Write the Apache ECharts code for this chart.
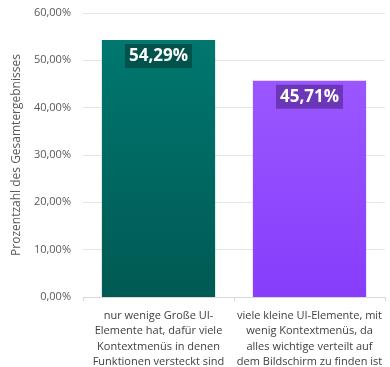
<!DOCTYPE html>
<html>
<head>
<meta charset="utf-8">
<script src="https://cdn.jsdelivr.net/npm/echarts@6/dist/echarts.min.js"></script>
<style>
  html, body { margin: 0; padding: 0; background: #ffffff; }
  #chart { width: 390px; height: 367px; }
</style>
</head>
<body>
<div id="chart"></div>
<script>
// Answer options (x categories)
const categories = [
  'nur wenige Große UI-\nElemente hat, dafür viele\nKontextmenüs in denen\nFunktionen versteckt sind',
  'viele kleine UI-Elemente, mit\nwenig Kontextmenüs, da\nalles wichtige verteilt auf\ndem Bildschirm zu finden ist'
];
// Share of total responses (fraction)
const shares = [0.5429, 0.4571];
// Value axis tick range
const axisMin = 0;
const axisMax = 0.6;
const axisStep = 0.1;

const fmtPct = (v, d) => (v * 100).toFixed(d).replace('.', ',') + '%';

const barStyles = [
  { top: '#00776F', bottom: '#005A53', labelBg: '#00524B' },
  { top: '#9A57FF', bottom: '#873DFB', labelBg: '#6B36B8' }
];

const chart = echarts.init(document.getElementById('chart'));
chart.setOption({
  animation: false,
  grid: { left: 83, right: 5, top: 13, bottom: 70, outerBoundsMode: 'none' },
  xAxis: {
    type: 'category',
    data: categories,
    axisLine: { lineStyle: { color: '#D9D9D9' } },
    axisTick: { show: true, length: 4, lineStyle: { color: '#D9D9D9' } },
    axisLabel: {
      color: '#404040',
      fontSize: 11,
      fontFamily: 'Open Sans',
      lineHeight: 15.5,
      margin: 11,
      interval: 0
    }
  },
  yAxis: {
    type: 'value',
    min: axisMin,
    max: axisMax,
    interval: axisStep,
    name: 'Prozentzahl des Gesamtergebnisses',
    nameLocation: 'middle',
    nameGap: 53,
    nameTextStyle: { color: '#595959', fontSize: 12, fontFamily: 'Open Sans' },
    axisLine: { show: false },
    axisTick: { show: false },
    splitLine: { lineStyle: { color: '#E6E6E6' } },
    axisLabel: {
      color: '#595959',
      fontSize: 11,
      fontFamily: 'Open Sans',
      margin: 12,
      formatter: v => fmtPct(v, 2)
    }
  },
  series: [{
    type: 'bar',
    barWidth: '75%',
    data: shares.map((v, i) => ({
      value: v,
      itemStyle: {
        color: new echarts.graphic.LinearGradient(0, 0, 0, 1, [
          { offset: 0, color: barStyles[i].top },
          { offset: 1, color: barStyles[i].bottom }
        ])
      },
      label: { backgroundColor: barStyles[i].labelBg }
    })),
    label: {
      show: true,
      position: 'insideTop',
      distance: 4,
      color: '#ffffff',
      fontSize: 17,
      fontWeight: 'bold',
      fontFamily: 'Open Sans',
      padding: [4, 4, 3, 4],
      formatter: p => fmtPct(p.value, 2)
    }
  }]
});
</script>
</body>
</html>
